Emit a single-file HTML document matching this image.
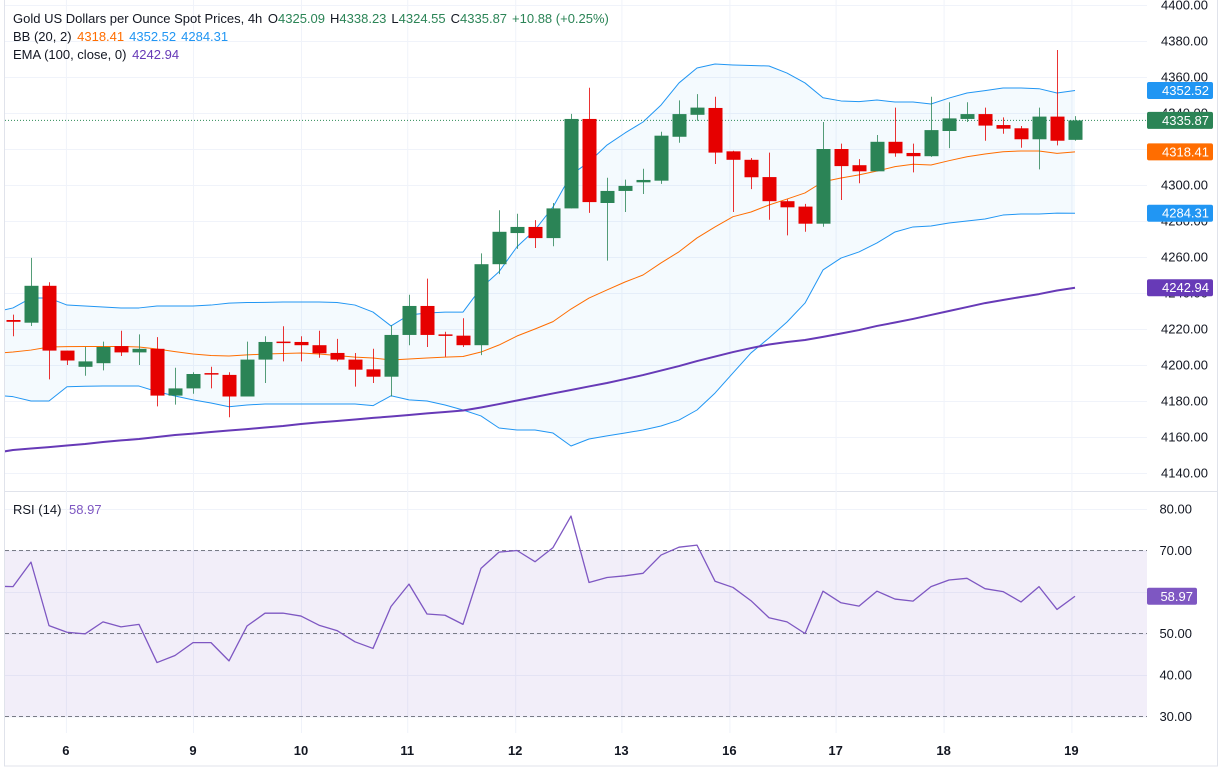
<!DOCTYPE html>
<html><head><meta charset="utf-8">
<style>
body{margin:0;background:#fff;width:1221px;height:775px;overflow:hidden;font-family:"Liberation Sans",sans-serif;}
svg{display:block}
text{font-family:"Liberation Sans",sans-serif;}
</style></head>
<body>
<svg id="chart" width="1221" height="775" viewBox="0 0 1221 775" xmlns="http://www.w3.org/2000/svg"></svg>
<script>
const opens=[4225,4223.5,4244,4208,4199,4201,4210.5,4207,4209,4183,4187,4195.5,4194.5,4182.5,4203,4213,4212.8,4211,4206.7,4203,4197.6,4193.5,4216.7,4232.8,4217,4216.3,4211,4256,4273.3,4276.7,4270.5,4287,4336.7,4290,4296.7,4301.5,4302.4,4326.8,4339,4342.8,4318.7,4314,4304.4,4291,4288,4278.5,4320,4311,4307.6,4324,4317.8,4316,4330,4336.7,4339.4,4333.3,4331.5,4325.4,4338,4325.09];
const highs=[4228,4259.5,4246,4208,4210,4213,4219,4217,4215.5,4198.5,4196,4199,4196,4213,4216,4221.5,4216,4219,4214.5,4206.7,4209,4222,4239,4248,4218.5,4226,4262,4286,4284,4280.5,4290,4339.5,4354,4304,4303,4309,4329.6,4347,4350.5,4349,4319,4315,4318,4292,4289.5,4335,4323,4314.4,4327.8,4343,4323,4349,4346,4346,4343,4337.6,4332.8,4343,4375,4338.23];
const lows=[4216,4221.7,4192,4200,4194,4197,4205,4200,4177,4178,4184,4187,4171,4182.5,4190,4202,4202,4204,4202,4188,4190,4182.5,4211,4210,4204.6,4210,4205.5,4250.5,4264.5,4265,4266,4287,4284.5,4258,4285,4295,4300.6,4323.5,4335.7,4311.7,4285,4297.7,4280.7,4272,4274,4276.8,4291.7,4301,4307.6,4315.7,4307,4315.6,4320.5,4335,4324.6,4328.5,4320.7,4308.7,4322,4324.55];
const closes=[4224,4244,4208,4202.5,4202,4210,4207,4209,4183,4187,4195,4195,4182.5,4203,4212.8,4212.5,4211,4206.5,4203,4197.4,4193.5,4216.7,4232.8,4216.7,4216.5,4211,4256,4274,4276.7,4270.5,4287,4336.7,4290.5,4296.7,4299.5,4302.8,4327.4,4339.4,4343,4318,4314,4304.3,4291,4287.6,4278.5,4320,4310.5,4307.6,4324,4317.6,4316,4330.5,4337,4339.4,4333,4331.3,4325.4,4338,4324.6,4335.87];
// band / ema series start at index -1
const bbUpper=[4229.4,4231.7,4237.2,4237.2,4233.3,4232.8,4232.2,4231.7,4231.7,4232.8,4232.8,4232.8,4233.3,4234.4,4234.7,4234.8,4235,4235,4235,4234.7,4233.3,4229.4,4221.7,4227.8,4228.9,4229.4,4229.4,4242.8,4251.8,4265.7,4275,4287.8,4305.6,4312.8,4322.2,4328.9,4335,4344.4,4356.7,4365,4367.2,4366.7,4366.4,4366.1,4362.2,4356.7,4348.5,4346.7,4346.3,4347.2,4346.1,4346.1,4345,4348.3,4351.1,4352.4,4353.9,4353.9,4353.5,4351.1,4352.52];
const bbMiddle=[4206.4,4207.2,4208.3,4210,4210.2,4210.3,4210.3,4210.3,4210,4208.9,4207.4,4206.1,4205.3,4205,4205.6,4206.1,4206.4,4206.7,4206.1,4205.3,4204.4,4203.9,4202.8,4203.3,4203.9,4204.4,4204.7,4207.2,4211.1,4216.1,4220,4224.1,4231.1,4237.2,4241.7,4246.1,4250,4256.7,4262.9,4270.6,4276.7,4282.4,4285,4288.9,4292.2,4295.6,4301.8,4303.9,4305.6,4307.8,4310.2,4311.5,4311.1,4313.5,4315.7,4317.2,4318.5,4318.9,4318.9,4317.6,4318.41];
const bbLower=[4183.3,4182.4,4180,4180,4187.9,4188.2,4188.3,4188.3,4188.3,4185.2,4182.8,4180.6,4178.9,4176.8,4177.8,4178.3,4178.3,4178.3,4178.3,4178.3,4178.3,4177.4,4182.9,4180.6,4180,4177.8,4175,4171.7,4165,4163.9,4163.9,4162.2,4155,4158.9,4160.6,4162.2,4163.9,4166.1,4169.4,4175,4184.4,4195.6,4206.7,4215,4223.9,4234.4,4252.8,4259.4,4262.8,4267.8,4273.9,4276.7,4277.2,4278.9,4280,4281.1,4283.3,4283.9,4283.9,4284.4,4284.31];
const ema100=[4151.1,4152.8,4153.6,4154.4,4155.3,4156.1,4157.2,4158.1,4158.9,4160,4161.1,4161.9,4162.8,4163.6,4164.4,4165.3,4166.1,4167.2,4168.1,4168.9,4169.7,4170.6,4171.4,4172.2,4173.1,4173.9,4174.7,4176.4,4178.3,4180.3,4182.2,4184.2,4186.1,4188.1,4190,4192.2,4194.4,4196.9,4199.4,4202.2,4204.7,4207.2,4209.4,4211.4,4212.8,4213.9,4215.6,4217.5,4219.4,4221.7,4223.6,4225.6,4227.8,4230,4232.2,4234.4,4236.1,4237.8,4239.4,4241.4,4242.94];
const rsi=[61.4,61.3,67.2,51.9,50.3,49.9,52.8,51.6,52.2,43,44.7,47.8,47.8,43.4,51.8,54.9,54.9,54.2,52,50.7,48,46.4,56.5,61.9,54.7,54.4,52.2,65.7,69.6,70,67.3,70.7,78.3,62.3,63.5,63.9,64.5,68.9,70.8,71.3,62.6,61.1,57.9,53.8,52.8,50,60.2,57.4,56.6,60.2,58.3,57.8,61.3,62.9,63.3,60.8,60.1,57.6,61.3,55.8,58.97];
const priceTicks=[4400,4380,4360,4340,4320,4300,4280,4260,4240,4220,4200,4180,4160,4140];
const rsiTicks=[80,70,60,50,40,30];
const dayLabels=["6","9","10","11","12","13","16","17","18","19"];
const dayIndex=[2.94,10,16,21.9,27.9,33.8,39.8,45.7,51.7,58.8];

const NS="http://www.w3.org/2000/svg";
const svg=document.getElementById('chart');
const PL=5,PR=1147,MT=0,MB=491,RT=491,RB=733;
const xOf=i=>13+18*i;
const yP=p=>5+(4400-p)*1.8;
const yR=r=>509+(80-r)*4.15;
function mk(tag,attrs,parent){const e=document.createElementNS(NS,tag);for(const k in attrs)e.setAttribute(k,attrs[k]);(parent||svg).appendChild(e);return e;}

const defs=mk('defs',{});
const c1=mk('clipPath',{id:'mainClip'},defs);mk('rect',{x:PL,y:MT,width:PR-PL,height:MB-MT},c1);
const c2=mk('clipPath',{id:'rsiClip'},defs);mk('rect',{x:PL,y:RT,width:PR-PL,height:RB-RT},c2);

// frame
const frame=mk('rect',{x:4.5,y:-1,width:1213,height:767,fill:'none',stroke:'#e0e3eb'});

const sep=mk('line',{x1:4,x2:1218,y1:491.5,y2:491.5,stroke:'#e0e3eb','stroke-width':1});


// grid
const grid=mk('g',{});
priceTicks.forEach(t=>{mk('line',{x1:PL,x2:PR,y1:yP(t)+0.5,y2:yP(t)+0.5,stroke:'#f0f3fa'},grid);});
rsiTicks.forEach(t=>{mk('line',{x1:PL,x2:PR,y1:yR(t)+0.5,y2:yR(t)+0.5,stroke:'#f0f3fa'},grid);});
dayIndex.forEach(d=>{mk('line',{x1:xOf(d)+0.5,x2:xOf(d)+0.5,y1:0,y2:RB,stroke:'#f0f3fa'},grid);});

const main=mk('g',{'clip-path':'url(#mainClip)'});

const bx=k=>xOf(k-1);
// band fill
let fillD='';
bbUpper.forEach((v,k)=>{fillD+=(k?'L':'M')+bx(k)+','+yP(v);});
for(let k=bbLower.length-1;k>=0;k--)fillD+='L'+bx(k)+','+yP(bbLower[k]);
const bf=mk('path',{d:fillD+'Z',fill:'rgba(33,150,243,0.05)'},main);

function line(arr,yf,color,w,name,parent){const d=arr.map((v,k)=>(k?'L':'M')+bx(k)+','+yf(v)).join('');const p=mk('path',{d,fill:'none',stroke:color,'stroke-width':w,'stroke-linejoin':'round'},parent);return p;}
line(bbUpper,yP,'#2196f3',1,'bb-upper-line',main);
line(bbLower,yP,'#2196f3',1,'bb-lower-line',main);
line(bbMiddle,yP,'#ff6d00',1,'bb-middle-line',main);
line(ema100,yP,'#673ab7',2,'ema-100-line',main);
// last price line
const lp=mk('line',{x1:PL,x2:PR,y1:yP(closes[closes.length-1]),y2:yP(closes[closes.length-1]),stroke:'#2e8b57','stroke-dasharray':'1 2','stroke-width':1},main);

// candles
const cg=mk('g',{},main);
opens.forEach((o,i)=>{
  const c=closes[i],up=c>=o,col=up?'#2b8456':'#e60000';
  const g=mk('g',{},cg);
  
  
  const x=xOf(i);
  mk('line',{x1:x+0.5,x2:x+0.5,y1:yP(highs[i]),y2:yP(lows[i]),stroke:col,'stroke-width':1,'stroke-opacity':0.8},g);
  const top=yP(Math.max(o,c)),bot=yP(Math.min(o,c));
  mk('rect',{x:x-6.5,y:top,width:14,height:Math.max(1.5,bot-top),fill:col},g);
});

// RSI pane
const rp=mk('g',{'clip-path':'url(#rsiClip)'});

const rb=mk('rect',{x:PL,y:yR(70),width:PR-PL,height:yR(30)-yR(70),fill:'rgba(126,87,194,0.1)'},rp);

[70,50,30].forEach(v=>{const l=mk('line',{x1:PL,x2:PR,y1:yR(v),y2:yR(v),stroke:'#787b86','stroke-dasharray':'4 3','stroke-width':1},rp);});
line(rsi,yR,'#7e57c2',1.3,'rsi-line',rp);

// axes labels
const ax=mk('g',{'font-size':'13',fill:'#131722'});

priceTicks.forEach(t=>{const e=mk('text',{x:1208,y:yP(t)+4.5,'text-anchor':'end'},ax);e.textContent=t.toFixed(2);});
const rax=mk('g',{'font-size':'13',fill:'#131722'});

[80,70,50,40,30].forEach(t=>{const e=mk('text',{x:1192,y:yR(t)+4.5,'text-anchor':'end'},rax);e.textContent=t.toFixed(2);});
const tax=mk('g',{'font-size':'13',fill:'#131722','font-weight':'bold'});

dayLabels.forEach((l,k)=>{const e=mk('text',{x:xOf(dayIndex[k]),y:755,'text-anchor':'middle'},tax);e.textContent=l;});

// tags
function tag(val,yv,col,name,w){const g=mk('g',{});
  mk('rect',{x:1147,y:yv-8.5,width:w,height:17,rx:2,fill:col},g);
  const t=mk('text',{x:1147+w-4,y:yv+4.5,'text-anchor':'end','font-size':'13',fill:'#fff'},g);t.textContent=val;}
tag(bbUpper[bbUpper.length-1].toFixed(2),yP(bbUpper[bbUpper.length-1]),'#2196f3','bb-upper-tag',66);
tag(closes[closes.length-1].toFixed(2),yP(closes[closes.length-1]),'#2b8456','last-price-tag',66);
tag(bbMiddle[bbMiddle.length-1].toFixed(2),yP(bbMiddle[bbMiddle.length-1]),'#ff6d00','bb-middle-tag',66);
tag(bbLower[bbLower.length-1].toFixed(2),yP(bbLower[bbLower.length-1]),'#2196f3','bb-lower-tag',66);
tag(ema100[ema100.length-1].toFixed(2),yP(ema100[ema100.length-1]),'#673ab7','ema-tag',66);
tag(rsi[rsi.length-1].toFixed(2),yR(rsi[rsi.length-1]),'#7e57c2','rsi-tag',50);
</script>
<svg style="position:absolute;left:0;top:0" width="700" height="520">
<text x="13" y="23" font-size="13" fill="#131722">Gold US Dollars per Ounce Spot Prices, 4h <tspan dx="2">O</tspan><tspan fill="#2b8456">4325.09</tspan><tspan dx="5">H</tspan><tspan fill="#2b8456">4338.23</tspan><tspan dx="5">L</tspan><tspan fill="#2b8456">4324.55</tspan><tspan dx="5">C</tspan><tspan fill="#2b8456">4335.87</tspan><tspan dx="5" fill="#2b8456">+10.88 (+0.25%)</tspan></text>
<text x="13" y="41" font-size="13" fill="#131722">BB (20, 2) <tspan dx="2" fill="#ff6d00">4318.41</tspan><tspan dx="5" fill="#2196f3">4352.52</tspan><tspan dx="5" fill="#2196f3">4284.31</tspan></text>
<text x="13" y="59" font-size="13" fill="#131722">EMA (100, close, 0) <tspan dx="2" fill="#673ab7">4242.94</tspan></text>
<text x="13" y="514" font-size="13" fill="#131722">RSI (14) <tspan dx="4" fill="#7e57c2">58.97</tspan></text>
</svg>
</body></html>
